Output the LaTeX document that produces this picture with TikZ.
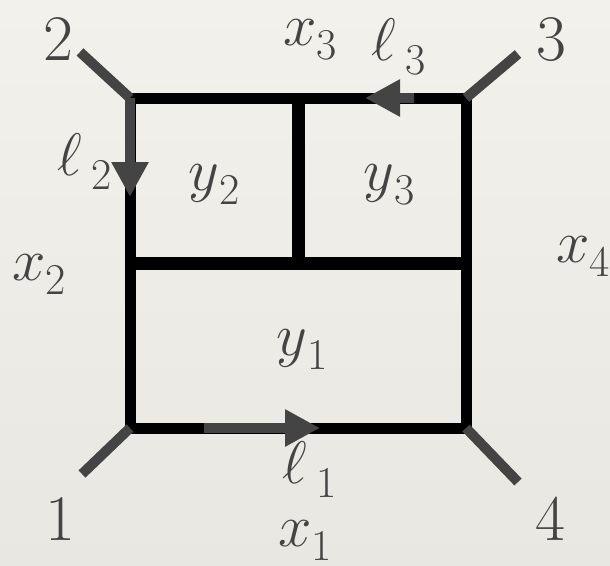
\documentclass[tikz,border=0pt]{standalone}
\usepackage{fix-cm}
\usepackage{xcolor}
\usetikzlibrary{arrows.meta}
\definecolor{inkgray}{HTML}{444444}
\definecolor{papertop}{HTML}{F3F1EC}
\definecolor{paperbot}{HTML}{E9E7E1}
\newcommand{\subup}[1]{{\fontsize{44}{44}\selectfont\raisebox{-14pt}{#1}}}
\tikzset{
  edgeline/.style={line width=11pt, black},
  inedge/.style={line width=13pt, black},
  legline/.style={line width=10pt, inkgray},
  momarrow/.style={line width=10pt, inkgray, -{Triangle[length=35pt, width=35pt]}},
  lbl/.style={inkgray, inner sep=0pt, anchor=base west, font=\fontsize{60}{60}\selectfont},
  numlbl/.style={lbl, font=\fontsize{65}{65}\selectfont}
}
\begin{document}
\begin{tikzpicture}[x=1pt, y=-1pt]
        \shade[top color=papertop, bottom color=paperbot] (0,0) rectangle (610,565);
        \useasboundingbox (0,0) rectangle (610,565);
        % vertices of the ladder
        \coordinate (v1) at (130,428);
        \coordinate (v2) at (130,98);
        \coordinate (v3) at (466,98);
        \coordinate (v4) at (466,428);
        \coordinate (ml) at (130,263);
        \coordinate (mr) at (466,263);
        \coordinate (mt) at (298,98);
        \coordinate (mm) at (298,263);
        % free ends of the legs
        \coordinate (e1) at (82,474);
        \coordinate (e2) at (80,52);
        \coordinate (e3) at (518,54);
        \coordinate (e4) at (518,482);
        % ends of the momentum arrows
        \coordinate (a1s) at (204,428);
        \coordinate (a1t) at (320,428);
        \coordinate (a2s) at (130,98);
        \coordinate (a2t) at (130,197);
        \coordinate (a3s) at (414,98);
        \coordinate (a3t) at (365,98);
        \draw[edgeline, line cap=rect] (v1) -- (v2) -- (v3) -- (v4) -- cycle;
        \foreach \a/\b in {ml/mr, mt/mm}
          \draw[inedge] (\a) -- (\b);
        \foreach \a/\b in {v1/e1, v2/e2, v3/e3, v4/e4}
          \draw[legline] (\a) -- (\b);
        \foreach \a/\b in {a1s/a1t, a2s/a2t, a3s/a3t}
          \draw[momarrow] (\a) -- (\b);
        % external labels
        \node[numlbl] (n1) at (45,540) {1};
        \node[numlbl] (n2) at (43,60) {2};
        \node[numlbl] (n3) at (536,60) {3};
        \node[numlbl] (n4) at (535,540) {4};
        % dual coordinates
        \node[lbl] (x1) at (278,546) {$x$\subup{1}};
        \node[lbl] (x2) at (12,280) {$x$\subup{2}};
        \node[lbl] (x3) at (283,45) {$x$\subup{3}};
        \node[lbl] (x4) at (556,262) {$x$\subup{4}};
        \node[lbl] (y1) at (276,355) {$y$\subup{1}};
        \node[lbl] (y2) at (188,190) {$y$\subup{2}};
        \node[lbl] (y3) at (363,190) {$y$\subup{3}};
        % loop momenta
        \node[lbl] (l1) at (282,483) {$\ell$\,\subup{1}};
        \node[lbl] (l2) at (57,175) {$\ell$\,\subup{2}};
        \node[lbl] (l3) at (371,60) {$\ell$\,\subup{3}};
      \end{tikzpicture}
\end{document}
